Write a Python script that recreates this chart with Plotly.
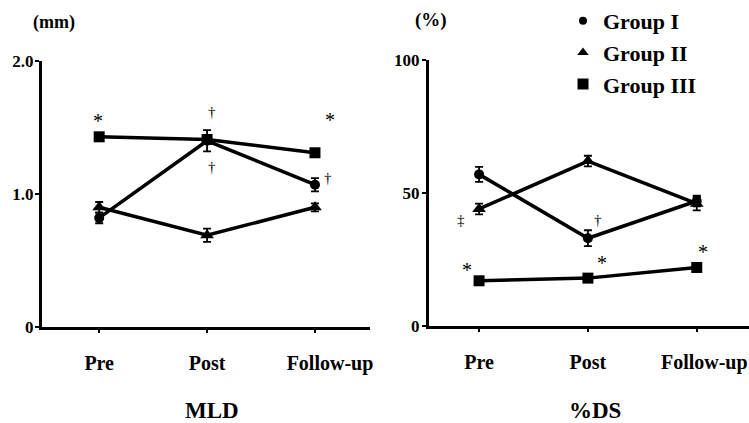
import plotly.graph_objects as go

categories = ["Pre", "Post", "Follow-up"]
groups = ["Group I", "Group II", "Group III"]
symbols = ["circle", "triangle-up", "square"]
msizes = [10, 12, 11]

# MLD (mm)
mld_g1 = [0.82, 1.40, 1.07]
mld_g1_err = [0.04, 0.08, 0.05]
mld_g2 = [0.90, 0.69, 0.90]
mld_g2_err = [0.04, 0.05, 0.03]
mld_g3 = [1.43, 1.41, 1.31]
mld_g3_err = [0.01, 0.03, 0.01]

# %DS (%)
ds_g1 = [57, 33, 47]
ds_g1_err = [2.8, 3.0, 2.0]
ds_g2 = [44, 62, 46]
ds_g2_err = [2.0, 2.0, 2.5]
ds_g3 = [17, 18, 22]
ds_g3_err = [0.5, 0.5, 0.5]

mld_ticks = [0, 1.0, 2.0]
mld_ticklabels = ["0", "1.0", "2.0"]
ds_ticks = [0, 50, 100]
ds_ticklabels = ["0", "50", "100"]

FONT = "'Liberation Serif', 'Times New Roman', Times, serif"
xpos = list(range(len(categories)))

# last category label sits a little right of its tick in the original
def cat_labels(pad):
    return categories[:-1] + ["\u00a0" * pad + categories[-1]]

fig = go.Figure()

def add_series(vals, errs, sym, ms, xa, ya):
    fig.add_trace(go.Scatter(
        x=xpos, y=vals, mode="lines+markers",
        line=dict(color="black", width=3.5),
        marker=dict(symbol=sym, size=ms, color="black"),
        error_y=dict(type="data", array=errs, color="black", thickness=1.8, width=4),
        xaxis=xa, yaxis=ya, showlegend=False, cliponaxis=False))

for vals, errs, sym, ms in zip([mld_g2, mld_g1, mld_g3], [mld_g2_err, mld_g1_err, mld_g3_err],
                               [symbols[1], symbols[0], symbols[2]], [msizes[1], msizes[0], msizes[2]]):
    add_series(vals, errs, sym, ms, "x", "y")
for vals, errs, sym, ms in zip([ds_g2, ds_g1, ds_g3], [ds_g2_err, ds_g1_err, ds_g3_err],
                               [symbols[1], symbols[0], symbols[2]], [msizes[1], msizes[0], msizes[2]]):
    add_series(vals, errs, sym, ms, "x2", "y2")

# legend entries
leg_sizes = [8, 10, 11]
for i, g in enumerate(groups):
    fig.add_trace(go.Scatter(
        x=[None], y=[None], mode="markers", name=g,
        marker=dict(symbol=symbols[i], size=leg_sizes[i], color="black"),
        xaxis="x2", yaxis="y2", showlegend=True, legendgroup=g))

axis_common = dict(showline=True, linecolor="black", linewidth=3, showgrid=False,
                   zeroline=False, ticks="outside", tickcolor="black")
xfont = dict(family=FONT, size=20, color="black", weight="bold")
yfont = dict(family=FONT, size=17, color="black", weight="bold")

fig.update_layout(
    width=749, height=423,
    margin=dict(l=0, r=0, t=0, b=0, autoexpand=False),
    paper_bgcolor="white", plot_bgcolor="white",
    font=dict(family=FONT, color="black"),
    xaxis=dict(axis_common, domain=[42/749, 370/749], range=[-0.53, 2.51],
               tickvals=xpos, ticktext=cat_labels(6), ticklen=3, tickwidth=2,
               ticklabelstandoff=13, anchor="y", automargin=False, tickfont=xfont),
    yaxis=dict(axis_common, domain=[1-327/423, 1-61/423], range=[0, 2.0],
               tickvals=mld_ticks, ticktext=mld_ticklabels, ticklen=4, tickwidth=1.5,
               ticklabelstandoff=-2, anchor="x", automargin=False, tickfont=yfont),
    xaxis2=dict(axis_common, domain=[429/749, 1.0], range=[-0.46, 2.48],
                tickvals=xpos, ticktext=cat_labels(3), ticklen=3, tickwidth=2,
                ticklabelstandoff=13, anchor="y2", automargin=False, tickfont=xfont,
                ticklabeloverflow="allow"),
    yaxis2=dict(axis_common, domain=[1-326/423, 1-60/423], range=[0, 100],
                tickvals=ds_ticks, ticktext=ds_ticklabels, ticklen=4, tickwidth=1.5,
                ticklabelstandoff=-1, anchor="x2", automargin=False, tickfont=yfont),
    legend=dict(x=563/749, y=1.0, xanchor="left", yanchor="top",
                font=dict(family=FONT, size=22, color="black", weight="bold"),
                itemwidth=30, tracegroupgap=0, bgcolor="rgba(0,0,0,0)"),
    showlegend=True,
)

ann = []
def txt(x, y, t, xref, yref, size, bold=False, xanchor="center", yanchor="middle"):
    ann.append(dict(x=x, y=y, xref=xref, yref=yref, text=t, showarrow=False,
                    xanchor=xanchor, yanchor=yanchor,
                    font=dict(family=FONT, size=size, color="black",
                              weight="bold" if bold else "normal")))

# units and titles
txt(54/749, 1-23/423, "(mm)", "paper", "paper", 18, True)
txt(431/749, 1-20/423, "(%)", "paper", "paper", 19, True)
txt(212/749, 1-410/423, "MLD", "paper", "paper", 23, True)
txt(595/749, 1-410/423, "%DS", "paper", "paper", 23, True)

# significance marks (MLD)
txt(-0.01, 1.55, "*", "x", "y", 20)
txt(1.05, 1.62, "†", "x", "y", 15)
txt(2.14, 1.56, "*", "x", "y", 20)
txt(1.05, 1.20, "†", "x", "y", 15)
txt(2.12, 1.12, "†", "x", "y", 15)
# significance marks (%DS)
txt(-0.17, 39.8, "‡", "x2", "y2", 15)
txt(1.09, 39.8, "†", "x2", "y2", 15)
txt(-0.11, 21.0, "*", "x2", "y2", 20)
txt(1.13, 23.6, "*", "x2", "y2", 20)
txt(2.06, 27.8, "*", "x2", "y2", 20)

fig.update_layout(annotations=ann)
fig.write_html("out.html", config={"displayModeBar": False},
               post_script="document.body.style.margin='0';")
